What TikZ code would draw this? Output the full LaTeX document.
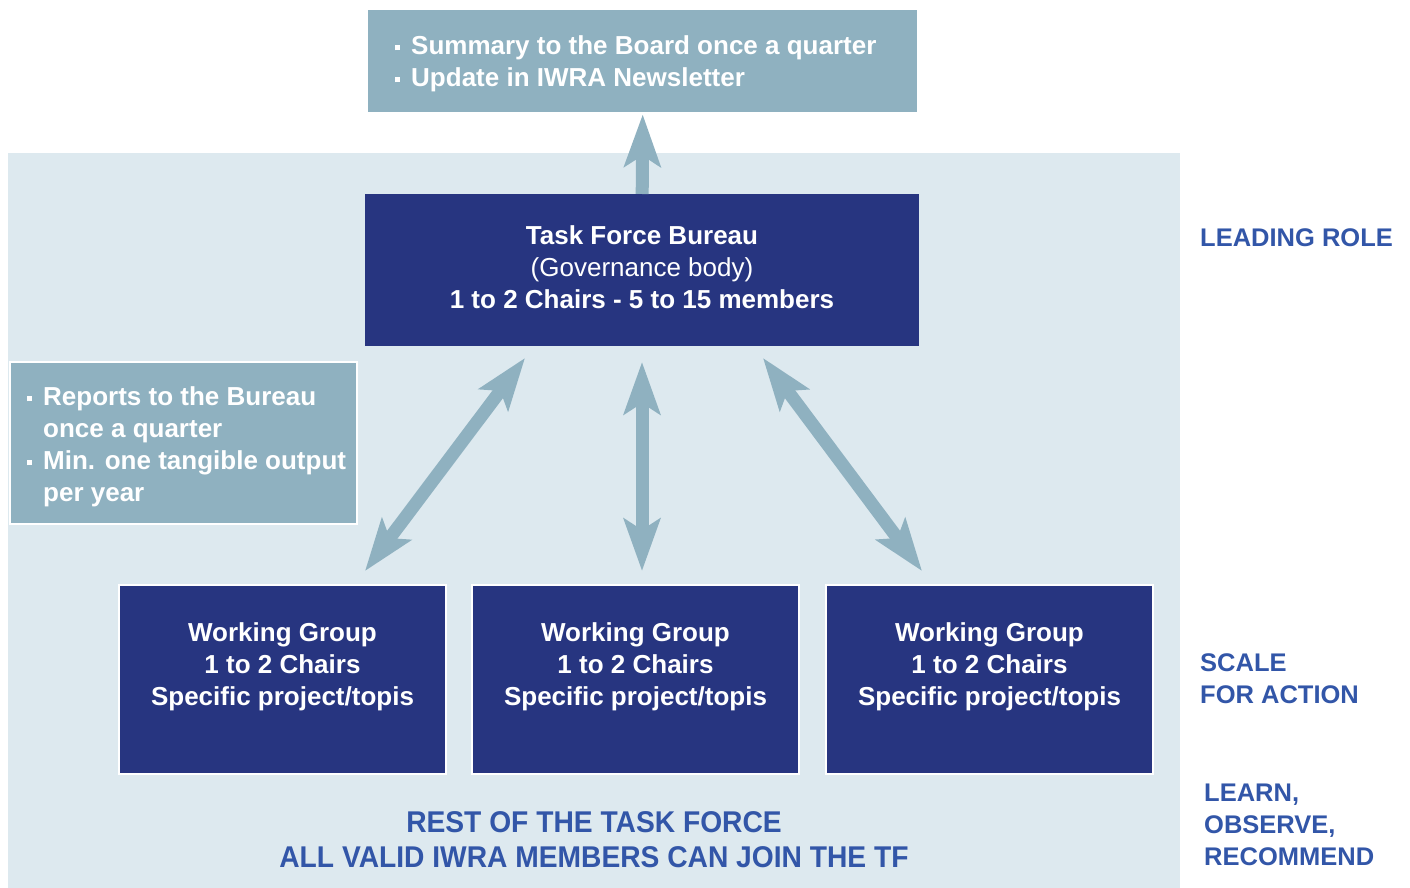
\documentclass[tikz,border=0pt]{standalone}
\usepackage{fontspec}
\setmainfont{Liberation Sans}
\newfontfamily\labfont{Liberation Sans}
\newfontfamily\narrowfont{Liberation Sans}[FakeStretch=0.94]
\usetikzlibrary{arrows.meta,calc}
\definecolor{navy}{RGB}{39,53,128}
\definecolor{slate}{RGB}{143,177,192}
\definecolor{panelbg}{RGB}{221,233,239}
\definecolor{labblue}{RGB}{50,86,168}
\newcommand\blt{\rule[4pt]{5pt}{5pt}}
\tikzset{
  panelbox/.style={fill=panelbg, inner sep=0, anchor=north west},
  darkbox/.style={fill=navy, inner sep=0, anchor=north west},
  wgbox/.style={fill=navy, draw=white, line width=2pt, inner sep=0, anchor=north west, minimum width=327, minimum height=189},
  palebox/.style={fill=slate, inner sep=0, anchor=north west},
  wtext/.style={text=white, align=center, inner sep=0, font=\fontsize{26}{32}\selectfont\bfseries},
  btext/.style={text=white, inner sep=0, anchor=west, font=\fontsize{26}{32}\selectfont\bfseries},
  sidelab/.style={text=labblue, inner sep=0, anchor=west, align=left, font=\fontsize{25.5}{32}\selectfont\labfont\bfseries},
  bottomlab/.style={text=labblue, inner sep=0, align=center, font=\fontsize{30}{35}\selectfont\narrowfont\bfseries},
  tip/.tip={Stealth[length=52pt, width=36pt, inset=11pt]},
  thickarrow/.style={draw=slate, line width=13pt},
}
\begin{document}
\begin{tikzpicture}[x=1pt,y=-1pt]
\useasboundingbox (0,0) rectangle (1410,888);
\node[panelbox, minimum width=1172, minimum height=735] (panel) at (8,153) {};
% top box
\node[palebox, minimum width=549, minimum height=102] (top) at (368,10) {};
\node[btext] (toptext) at (395,64) {\begin{tabular}{@{}l@{\hspace{11pt}}l@{}}\blt & Summary to the Board once a quarter\\ \blt & Update in IWRA Newsletter\end{tabular}};
% bureau
\node[darkbox, minimum width=554, minimum height=152] (bureau) at (365,194) {};
\node[wtext] (bureautext) at (642,267) {Task Force Bureau\\ \mdseries (Governance body)\\ 1 to 2 Chairs - 5 to 15 members};
% left box
\node[palebox, draw=white, line width=2pt, minimum width=347, minimum height=162] (left) at (9,361) {};
\node[btext] (lefttext) at (27,447) {\begin{tabular}{@{}l@{\hspace{11pt}}l@{}}\blt & Reports to the Bureau\\ & once a quarter\\ \blt & Min. one tangible output\\ & per year\end{tabular}};
% working groups
\node[wgbox] (wg1) at (118,584) {};
\node[wgbox] (wg2) at (471,584) {};
\node[wgbox] (wg3) at (825,584) {};
\foreach \w in {wg1,wg2,wg3}{
  \node[wtext] (\w text) at ($(\w.north)+(0,83)$) {Working Group\\ 1 to 2 Chairs\\ Specific project/topis};
}
% arrows
\coordinate (a1t) at (525,358);
\coordinate (a1b) at (365,571);
\coordinate (a2t) at (642,362);
\coordinate (a2b) at (642,571);
\coordinate (a3t) at (763,358);
\coordinate (a3b) at (922,571);
\draw[thickarrow, -{tip}] (bureau.north) -- ($(top.south)+(0,2)$);
\draw[thickarrow, {tip}-{tip}] (a1t) -- (a1b);
\draw[thickarrow, {tip}-{tip}] (a2t) -- (a2b);
\draw[thickarrow, {tip}-{tip}] (a3t) -- (a3b);
% side labels
\node[sidelab] (lead) at (1200,238) {LEADING ROLE};
\node[sidelab] (scale) at (1200,679) {SCALE\\FOR ACTION};
\node[sidelab] (learn) at (1204,825) {LEARN,\\OBSERVE,\\RECOMMEND};
% bottom
\node[bottomlab] (rest) at (594,840) {REST OF THE TASK FORCE\\ALL VALID IWRA MEMBERS CAN JOIN THE TF};
\end{tikzpicture}
\end{document}
